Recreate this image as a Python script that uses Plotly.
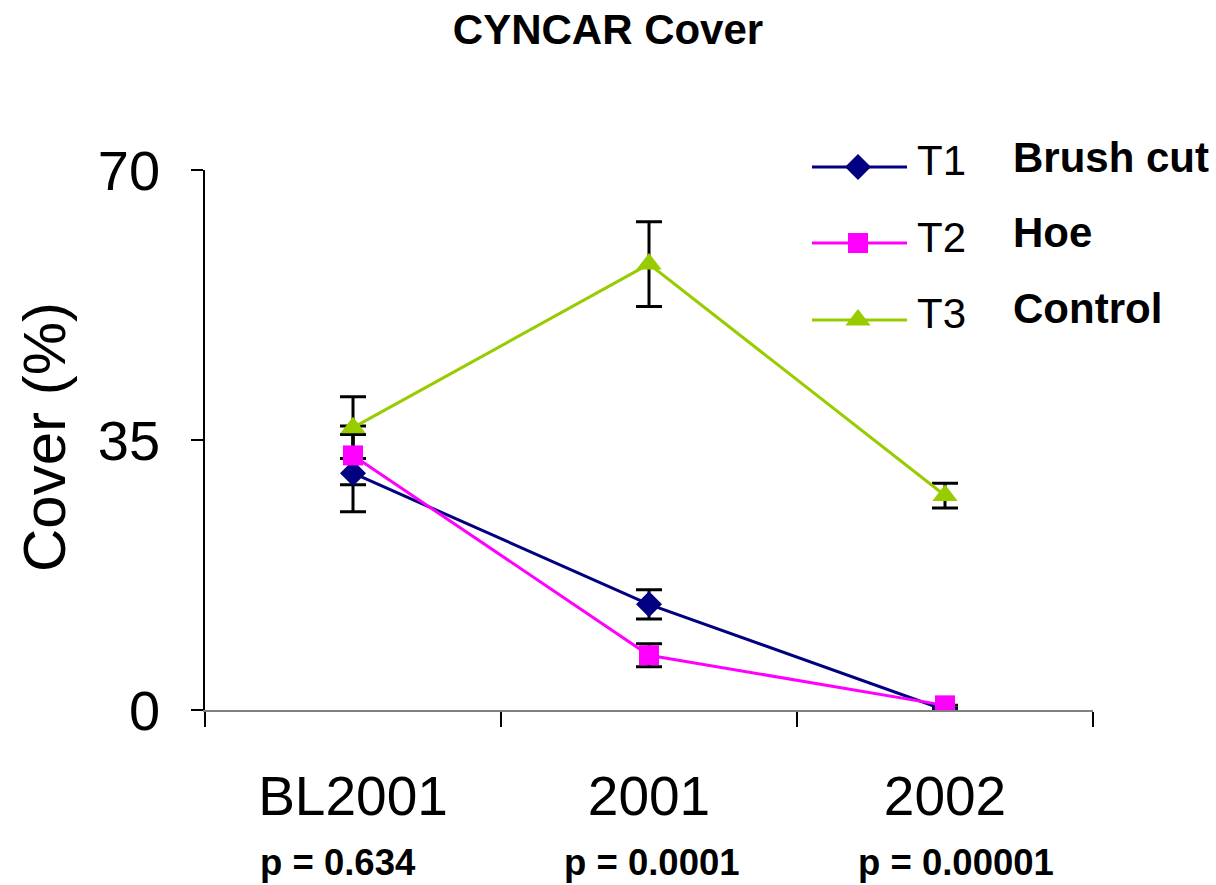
import plotly.graph_objects as go

# Sampling periods and treatments
periods = ["BL2001", "2001", "2002"]
p_values = ["p = 0.634", "p = 0.0001", "p = 0.00001"]

t1_cover = [30.7, 13.7, 0.0]
t1_err = [5.0, 1.9, 0.2]
t2_cover = [33.0, 7.1, 0.6]
t2_err = [3.8, 1.5, 0.0]
t3_cover = [36.6, 57.8, 27.8]
t3_err = [4.0, 5.5, 1.6]

series_names = ["T1", "T2", "T3"]
treatment_names = ["Brush cut", "Hoe", "Control"]
colors = ["#000080", "#FF00FF", "#99CC00"]
symbols = ["diamond", "square", "triangle-up"]
sizes = [20, 20, 22]

y_ticks = [0, 35, 70]

FONT = "Liberation Sans, Arial, sans-serif"

W, H = 1216, 885
L, R, T, B = 205, 123, 120, 175
PW, PH = W - L - R, H - T - B
AXIS_TOP = 170  # pixel row where the value axis ends


def px(x):
    """pixel column -> paper x"""
    return (x - L) / PW


def py(y):
    """pixel row -> paper y"""
    return (H - B - y) / PH


covers = [t1_cover, t2_cover, t3_cover]
errors = [t1_err, t2_err, t3_err]

fig = go.Figure()

# error bars first, so every marker sits on top of them
for vals, errs in zip(covers, errors):
    fig.add_trace(go.Scatter(
        x=periods, y=vals, mode="markers",
        marker=dict(size=1, opacity=0),
        error_y=dict(type="data", array=errs, visible=True,
                     color="black", thickness=3, width=13),
        showlegend=False, hoverinfo="skip",
    ))

for name, vals, col, sym, sz in zip(series_names, covers, colors, symbols, sizes):
    fig.add_trace(go.Scatter(
        x=periods, y=vals, mode="lines+markers", name=name,
        line=dict(color=col, width=3),
        marker=dict(color=col, symbol=sym, size=sz, line=dict(width=0)),
        showlegend=False,
    ))

# legend glyphs on a separate full-area subplot whose units equal paper units
leg_y = [167, 243, 320]
leg_x0, leg_x1, leg_xm = 812, 907, 858
for col, sym, sz, ly in zip(colors, symbols, sizes, leg_y):
    fig.add_trace(go.Scatter(
        x=[px(leg_x0), px(leg_xm), px(leg_x1)], y=[py(ly)] * 3,
        xaxis="x2", yaxis="y2", mode="lines+markers",
        line=dict(color=col, width=3),
        marker=dict(color=col, symbol=sym, size=[0, sz, 0], opacity=1,
                    line=dict(width=0)),
        showlegend=False, hoverinfo="skip",
    ))

annotations = []
label_y = [160, 237, 313]
name_y = [157, 232, 308]
for nm, tn, ly, ny in zip(series_names, treatment_names, label_y, name_y):
    annotations.append(dict(x=px(915), y=py(ly), xref="paper", yref="paper", text=nm,
                            showarrow=False, xanchor="left", yanchor="middle",
                            font=dict(family=FONT, size=42, color="black")))
    annotations.append(dict(x=px(1011), y=py(ny), xref="paper", yref="paper",
                            text="<b>%s</b>" % tn,
                            showarrow=False, xanchor="left", yanchor="middle",
                            font=dict(family=FONT, size=42, color="black")))

p_label_x = [338, 652, 956]
for pv, lx in zip(p_values, p_label_x):
    annotations.append(dict(x=px(lx), y=py(862), xref="paper", yref="paper",
                            text="<b>%s</b>" % pv,
                            showarrow=False, xanchor="center", yanchor="middle",
                            font=dict(family=FONT, size=36.5, color="black")))

annotations.append(dict(x=px(44), y=py(437), xref="paper", yref="paper", text="Cover (%)",
                        showarrow=False, textangle=-90, xanchor="center", yanchor="middle",
                        font=dict(family=FONT, size=60, color="black")))

fig.update_layout(
    width=W, height=H,
    margin=dict(l=L, r=R, t=T, b=B, pad=0),
    paper_bgcolor="white", plot_bgcolor="rgba(0,0,0,0)",
    title=dict(text="<b>CYNCAR Cover</b>", x=0.5, xanchor="center",
               y=1 - 29 / H, yanchor="middle",
               font=dict(family=FONT, size=42, color="black")),
    xaxis=dict(type="category", categoryorder="array", categoryarray=periods,
               range=[-0.5, 2.5], showgrid=False, zeroline=False,
               showline=True, linecolor="#808080", linewidth=2,
               ticks="outside", tickson="boundaries", ticklen=15, tickwidth=1.5,
               tickcolor="black", ticklabelstandoff=37,
               tickfont=dict(family=FONT, size=55, color="black")),
    yaxis=dict(range=[0, 70], domain=[0, py(AXIS_TOP)],
               tickvals=y_ticks, ticktext=[str(v) for v in y_ticks],
               showgrid=False, zeroline=False, showline=True,
               linecolor="black", linewidth=1.5,
               ticks="outside", ticklen=12, tickwidth=1.5, tickcolor="black",
               ticklabelstandoff=20,
               tickfont=dict(family=FONT, size=56, color="black")),
    xaxis2=dict(domain=[0, 1], anchor="y2", range=[0, 1], visible=False, fixedrange=True),
    yaxis2=dict(domain=[0, 1], anchor="x2", range=[0, 1], visible=False, fixedrange=True),
    annotations=annotations,
    showlegend=False,
)

fig.write_html("out.html")
